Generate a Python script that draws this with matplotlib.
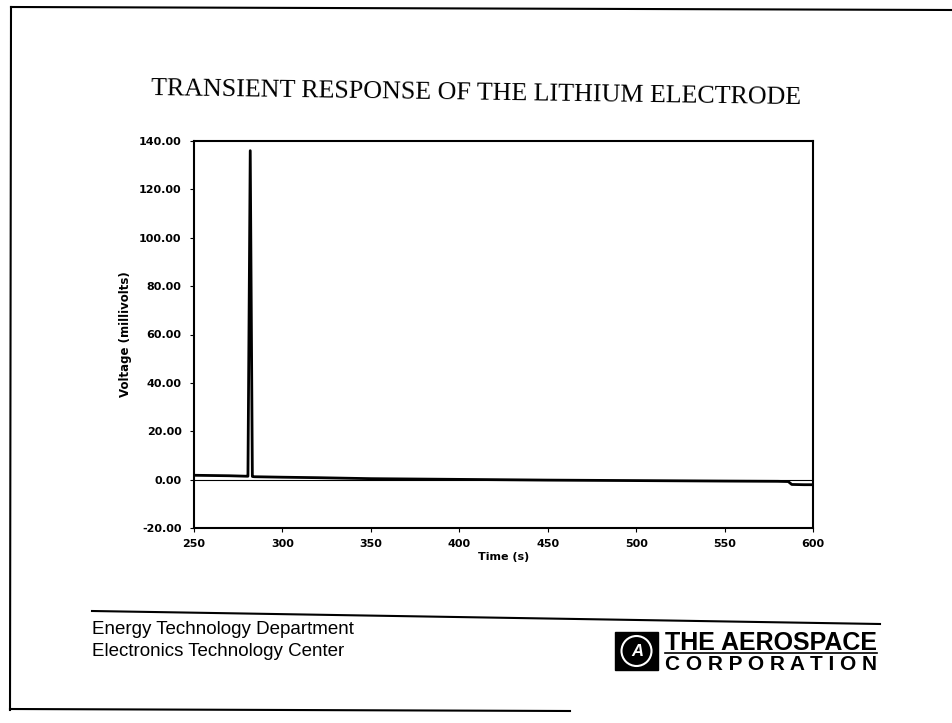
import matplotlib.pyplot as plt
from matplotlib.patches import Rectangle, Ellipse
from matplotlib.lines import Line2D

# Tempo (s) e tensão (mV)
tempo = [250, 260, 270, 280, 280.5, 281.8, 283.0, 284, 300, 320, 350, 400,
         450, 500, 550, 580, 586, 588, 595, 600]
tensao = [1.8, 1.7, 1.6, 1.4, 1.4, 136.0, 1.3, 1.2, 1.0, 0.8, 0.4, 0.1,
          -0.2, -0.4, -0.6, -0.7, -0.8, -2.0, -2.1, -2.1]

x_ticks = [250, 300, 350, 400, 450, 500, 550, 600]
y_ticks = [-20, 0, 20, 40, 60, 80, 100, 120, 140]

titulo = 'TRANSIENT RESPONSE OF THE LITHIUM ELECTRODE'
rodape = ['Energy Technology Department', 'Electronics Technology Center']

plt.rcParams['font.family'] = ['Liberation Sans', 'DejaVu Sans']

fig = plt.figure(figsize=(9.53, 7.23), dpi=100)
W, H = 953, 723

def fx(px):
    return px / W

def fy(py):
    return 1 - py / H

# Moldura do slide
fig.add_artist(Line2D([fx(11), fx(953)], [fy(7), fy(10)], color='black', lw=1.5))
fig.add_artist(Line2D([fx(11), fx(10)], [fy(7), fy(710)], color='black', lw=1.5))
fig.add_artist(Line2D([fx(10), fx(570)], [fy(709), fy(711)], color='black', lw=1.5))

fig.text(0.5, fy(94), titulo, ha='center', va='center',
         fontsize=18.7, family='Liberation Serif', rotation=-0.8)

ax = fig.add_axes([fx(194), fy(528), fx(813) - fx(194), fy(141) - fy(528)])
ax.plot(tempo, tensao, color='black', lw=2.0)
ax.axhline(0, color='black', lw=0.8, zorder=1)
ax.set_xlim(250, 600)
ax.set_ylim(-20, 140)
ax.set_xticks(x_ticks)
ax.set_yticks(y_ticks)
ax.set_yticklabels([f'{v:.2f}' for v in y_ticks])
ax.tick_params(length=3, width=0.8, direction='out')
ax.tick_params(axis='y', pad=6)
ax.tick_params(axis='x', pad=5)
for lab in ax.get_xticklabels() + ax.get_yticklabels():
    lab.set_fontweight('bold')
    lab.set_family('DejaVu Sans')
    lab.set_fontsize(8)
for s in ax.spines.values():
    s.set_linewidth(1.5)
ax.set_xlabel('Time (s)', fontsize=8, fontweight='bold', family='DejaVu Sans', labelpad=2)
ax.set_ylabel('Voltage (millivolts)', fontsize=8.5, fontweight='bold',
              family='DejaVu Sans', labelpad=5)

# Rodapé
fig.add_artist(Line2D([fx(92), fx(880)], [fy(611), fy(624)], color='black', lw=1.5))
fig.text(fx(92), fy(630), rodape[0], ha='left', va='center', fontsize=13.5)
fig.text(fx(92), fy(651), rodape[1], ha='left', va='center', fontsize=13.5)

# Logotipo
fig.add_artist(Rectangle((fx(615), fy(670)), fx(658) - fx(615), fy(632) - fy(670),
                         transform=fig.transFigure, color='black'))
fig.add_artist(Ellipse((fx(636.5), fy(651)), 30 / W, 30 / H, transform=fig.transFigure,
                       fill=False, edgecolor='white', lw=1.5))
fig.text(fx(637), fy(651), 'A', color='white', ha='center', va='center',
         fontsize=12, fontweight='bold', style='italic')
fig.text(fx(665), fy(643), 'THE AEROSPACE', ha='left', va='center',
         fontsize=18, fontweight='bold')
fig.add_artist(Line2D([fx(665), fx(877)], [fy(653), fy(653)], color='black', lw=1.2))
fig.text(fx(665), fy(665), 'C O R P O R A T I O N', ha='left', va='center',
         fontsize=15, fontweight='bold')

fig.savefig('out.png', dpi=100)
